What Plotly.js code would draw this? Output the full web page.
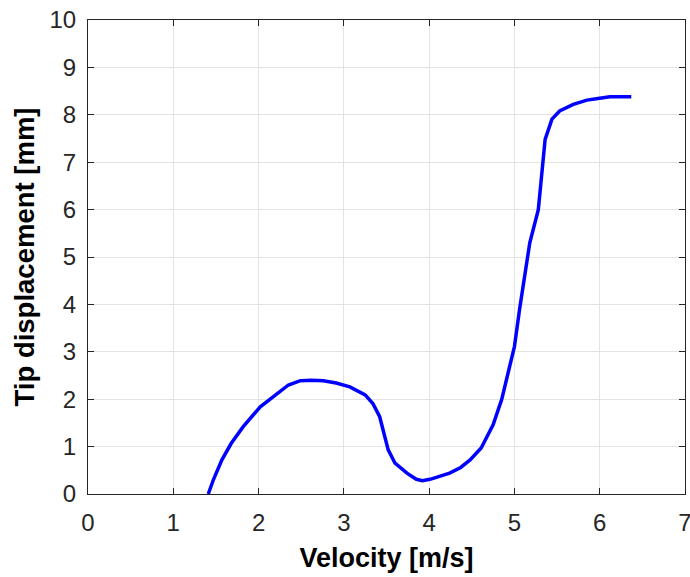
<!DOCTYPE html>
<html>
<head>
<meta charset="utf-8">
<script src="https://cdn.plot.ly/plotly-3.0.1.min.js"></script>
<style>html,body{margin:0;padding:0;background:#fff;}#chart{width:690px;height:577px;}</style>
</head>
<body>
<div id="chart"></div>
<script>
const velocity = [1.41, 1.47, 1.57, 1.68, 1.82, 2.02, 2.17, 2.35, 2.49, 2.62, 2.76, 2.91, 3.07, 3.25, 3.34, 3.42, 3.46, 3.52, 3.60, 3.74, 3.85, 3.92, 4.01, 4.10, 4.24, 4.37, 4.48, 4.61, 4.75, 4.85, 4.93, 5.00, 5.06, 5.12, 5.18, 5.28, 5.32, 5.36, 5.44, 5.53, 5.69, 5.85, 6.00, 6.12, 6.37];
const tipDisplacement = [0.00, 0.30, 0.72, 1.07, 1.42, 1.84, 2.05, 2.30, 2.39, 2.40, 2.39, 2.34, 2.26, 2.09, 1.91, 1.63, 1.35, 0.93, 0.65, 0.44, 0.31, 0.28, 0.31, 0.36, 0.44, 0.56, 0.72, 0.97, 1.46, 1.99, 2.55, 3.11, 3.89, 4.59, 5.30, 6.00, 6.71, 7.48, 7.91, 8.08, 8.22, 8.31, 8.35, 8.38, 8.38];
const xTicks = [0, 1, 2, 3, 4, 5, 6, 7];
const yTicks = [0, 1, 2, 3, 4, 5, 6, 7, 8, 9, 10];

const FONT = 'Liberation Sans, Arial, sans-serif';
const axisCommon = {
  showline: true, mirror: 'ticks', linecolor: '#262626', linewidth: 1,
  ticks: 'inside', ticklen: 6, tickcolor: '#262626', tickwidth: 1,
  showgrid: true, gridcolor: '#e3e3e3', gridwidth: 1, zeroline: false,
  ticklabeloverflow: 'allow',
  tickfont: {family: FONT, size: 24, color: '#262626'}
};

const trace = {
  x: velocity, y: tipDisplacement, type: 'scatter', mode: 'lines',
  line: {color: '#0000ff', width: 3.5}, hoverinfo: 'skip', cliponaxis: false
};

const layout = {
  width: 690, height: 577,
  margin: {l: 88, r: 5, t: 20, b: 83},
  paper_bgcolor: '#ffffff', plot_bgcolor: '#ffffff',
  showlegend: false,
  xaxis: Object.assign({}, axisCommon, {
    range: [0, 7], tickvals: xTicks, ticktext: xTicks.map(String),
    ticklabelstandoff: 7,
    title: {text: 'Velocity [m/s]', standoff: 13,
      font: {family: FONT, size: 27, color: '#000', weight: 'bold'}}
  }),
  yaxis: Object.assign({}, axisCommon, {
    range: [0, 10], tickvals: yTicks, ticktext: yTicks.map(String),
    ticklabelstandoff: 6,
    title: {text: 'Tip displacement [mm]', standoff: 6,
      font: {family: FONT, size: 27.5, color: '#000', weight: 'bold'}}
  })
};

Plotly.newPlot('chart', [trace], layout, {displayModeBar: false, staticPlot: true});
</script>
</body>
</html>
